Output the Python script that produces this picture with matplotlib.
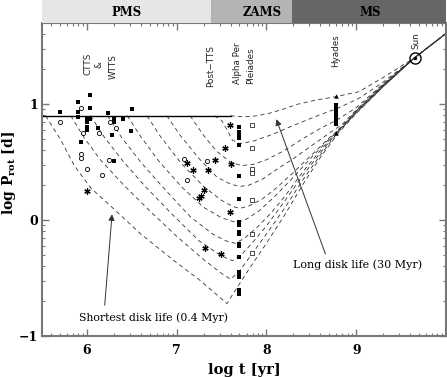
import numpy as np
import matplotlib
matplotlib.use("Agg")
import matplotlib.pyplot as plt

plt.rcParams['mathtext.fontset'] = 'dejavuserif'

# ---------------- data ----------------
# model tracks (log t, log P), lowest (0.4 Myr) to top (30 Myr)
trk_A_x = [5.54, 5.71, 5.86, 6.04, 6.28, 6.60, 6.97, 7.26, 7.56, 7.65, 7.80, 8.00, 8.20, 8.40, 8.60, 8.80, 9.00, 9.30, 9.65, 10.0]
trk_A_y = [0.90, 0.69, 0.47, 0.28, 0.11, -0.12, -0.35, -0.52, -0.72, -0.61, -0.43, -0.20, 0.04, 0.30, 0.54, 0.75, 0.92, 1.15, 1.40, 1.61]
trk_B_x = [5.82, 5.97, 6.15, 6.40, 6.70, 7.00, 7.30, 7.50, 7.60, 7.70, 7.85, 8.00, 8.20, 8.40, 8.60, 8.80, 9.00, 9.30, 9.65, 10.0]
trk_B_y = [0.90, 0.71, 0.52, 0.31, 0.08, -0.14, -0.34, -0.46, -0.51, -0.44, -0.28, -0.12, 0.10, 0.34, 0.56, 0.76, 0.925, 1.15, 1.40, 1.61]
trk_C_x = [6.04, 6.19, 6.40, 6.65, 6.95, 7.25, 7.50, 7.62, 7.72, 7.85, 8.00, 8.20, 8.40, 8.60, 8.80, 9.00, 9.30, 9.65, 10.0]
trk_C_y = [0.90, 0.72, 0.51, 0.29, 0.05, -0.18, -0.31, -0.35, -0.30, -0.19, -0.05, 0.16, 0.38, 0.58, 0.77, 0.93, 1.155, 1.40, 1.61]
trk_D_x = [6.23, 6.38, 6.60, 6.85, 7.15, 7.40, 7.55, 7.65, 7.75, 7.90, 8.05, 8.20, 8.40, 8.60, 8.80, 9.00, 9.30, 9.65, 10.0]
trk_D_y = [0.90, 0.72, 0.50, 0.28, 0.03, -0.12, -0.18, -0.20, -0.16, -0.06, 0.06, 0.20, 0.41, 0.60, 0.78, 0.935, 1.16, 1.40, 1.61]
trk_E_x = [6.45, 6.60, 6.80, 7.05, 7.30, 7.50, 7.62, 7.68, 7.78, 7.92, 8.10, 8.30, 8.50, 8.70, 8.85, 9.00, 9.30, 9.65, 10.0]
trk_E_y = [0.90, 0.72, 0.51, 0.29, 0.11, 0.02, -0.01, -0.02, 0.01, 0.08, 0.21, 0.37, 0.54, 0.70, 0.80, 0.94, 1.16, 1.40, 1.61]
trk_F_x = [6.67, 6.82, 7.05, 7.30, 7.50, 7.62, 7.70, 7.80, 7.95, 8.10, 8.30, 8.50, 8.70, 8.85, 9.00, 9.30, 9.65, 10.0]
trk_F_y = [0.90, 0.72, 0.49, 0.29, 0.17, 0.12, 0.10, 0.12, 0.18, 0.27, 0.41, 0.56, 0.71, 0.81, 0.945, 1.165, 1.40, 1.61]
trk_G_x = [6.89, 7.04, 7.25, 7.45, 7.60, 7.70, 7.80, 7.95, 8.10, 8.30, 8.50, 8.70, 8.85, 9.00, 9.30, 9.65, 10.0]
trk_G_y = [0.90, 0.73, 0.53, 0.37, 0.31, 0.29, 0.30, 0.35, 0.43, 0.53, 0.64, 0.75, 0.83, 0.95, 1.17, 1.40, 1.61]
trk_H_x = [7.15, 7.30, 7.45, 7.60, 7.72, 7.85, 8.00, 8.20, 8.40, 8.60, 8.80, 9.00, 9.30, 9.65, 10.0]
trk_H_y = [0.90, 0.73, 0.59, 0.50, 0.47, 0.48, 0.52, 0.60, 0.70, 0.79, 0.87, 0.97, 1.175, 1.40, 1.61]
trk_I_x = [7.42, 7.50, 7.56, 7.62, 7.70, 7.85, 8.07, 8.25, 8.44, 8.60, 8.78, 9.03, 9.30, 9.65, 10.0]
trk_I_y = [0.90, 0.86, 0.78, 0.69, 0.66, 0.68, 0.74, 0.80, 0.86, 0.91, 0.96, 1.05, 1.19, 1.40, 1.61]
trk_J_x = [7.60, 7.75, 7.90, 8.05, 8.20, 8.35, 8.55, 8.77, 9.03, 9.30, 9.65, 10.0]
trk_J_y = [0.90, 0.89, 0.90, 0.925, 0.96, 1.00, 1.035, 1.064, 1.107, 1.23, 1.40, 1.61]

# disk-locked period line
lock_x = [5.5, 7.6]
lock_y = [0.9, 0.9]

# observations
filled_x = [5.70, 5.90, 6.04, 6.04, 5.90, 5.90, 6.00, 6.04, 6.00, 6.00, 6.00, 6.12, 6.23, 6.30, 6.30, 6.40, 6.50, 5.93, 6.28, 6.49, 6.30]
filled_y = [0.93, 1.015, 1.08, 0.97, 0.93, 0.89, 0.875, 0.875, 0.845, 0.80, 0.775, 0.795, 0.92, 0.875, 0.845, 0.875, 0.955, 0.67, 0.73, 0.77, 0.51]
open_x = [5.70, 5.93, 6.26, 6.32, 5.96, 6.14, 5.93, 5.93, 6.00, 6.17, 6.25, 7.08, 7.34, 7.12]
open_y = [0.85, 0.97, 0.85, 0.79, 0.75, 0.75, 0.57, 0.535, 0.44, 0.385, 0.52, 0.53, 0.51, 0.35]
star_x = [6.00, 7.12, 7.18, 7.43, 7.35, 7.30, 7.27, 7.25, 7.59, 7.54, 7.60, 7.59, 7.49, 7.32]
star_y = [0.255, 0.49, 0.435, 0.52, 0.435, 0.26, 0.21, 0.19, 0.82, 0.62, 0.48, 0.07, -0.29, -0.24]
pleiades_x = [7.69] * 19
pleiades_y = [0.80, 0.76, 0.73, 0.71, 0.65, 0.38, 0.18, -0.02, -0.04, -0.105, -0.12, -0.205, -0.225, -0.32, -0.45, -0.47, -0.49, -0.60, -0.64]
alphaper_x = [7.84] * 7
alphaper_y = [0.82, 0.62, 0.44, 0.41, 0.175, -0.12, -0.28]
hyades_x = [8.77] * 9
hyades_y = [0.99, 0.97, 0.95, 0.93, 0.91, 0.89, 0.87, 0.85, 0.83]
tri_x = [8.77, 8.77]
tri_y = [1.07, 0.75]
sun_x, sun_y = 9.65, 1.40

phase_names = ["PMS", "ZAMS", "MS"]
phase_edges = [5.5, 7.384, 8.289, 10.0]
phase_colors = ["#e6e6e6", "#b4b4b4", "#666666"]
phase_label_x = [6.44, 7.95, 9.16]

group_labels = ["CTTS", "&", "WTTS", "Post\u2212TTS", "Alpha Per", "Pleiades", "Hyades", "Sun"]
group_label_x = [6.01, 6.14, 6.29, 7.38, 7.68, 7.82, 8.77, 9.67]
group_label_y = [1.35, 1.34, 1.32, 1.33, 1.35, 1.33, 1.46, 1.55]

# ---------------- figure ----------------
W, H = 447, 377
fig = plt.figure(figsize=(W / 100, H / 100), dpi=100)
L, R, B, T = 42, 446, 336, 23
ax = fig.add_axes([L / W, 1 - B / H, (R - L) / W, (B - T) / H])
bax = fig.add_axes([L / W, 1 - T / H, (R - L) / W, T / H])

xmin, xmax, ymin, ymax = 5.5, 10.0, -1.0, 1.7
ax.set_xlim(xmin, xmax)
ax.set_ylim(ymin, ymax)

# phase band
bax.set_xlim(xmin, xmax)
bax.set_ylim(0, 1)
bax.axis('off')
for i, name in enumerate(phase_names):
    bax.axvspan(phase_edges[i], phase_edges[i + 1], color=phase_colors[i], lw=0)
    bax.text(phase_label_x[i], 0.45, name, ha='center', va='center',
             family='DejaVu Serif', weight='bold', fontsize=8.5, color='black')

# tracks
tracks = [(trk_A_x, trk_A_y), (trk_B_x, trk_B_y), (trk_C_x, trk_C_y), (trk_D_x, trk_D_y),
          (trk_E_x, trk_E_y), (trk_F_x, trk_F_y), (trk_G_x, trk_G_y), (trk_H_x, trk_H_y),
          (trk_I_x, trk_I_y), (trk_J_x, trk_J_y)]
for tx, ty in tracks:
    ax.plot(tx, ty, color='#333333', lw=0.6, dashes=(5, 4), zorder=2)
ax.plot(lock_x, lock_y, color='black', lw=1.0, zorder=2)

# observations
ax.plot(filled_x, filled_y, 's', color='black', ms=2.3, mew=0, zorder=3)
ax.plot(open_x, open_y, 'o', mfc='white', mec='black', ms=3.0, mew=0.6, zorder=3)
ax.plot(star_x, star_y, marker=(6, 2, 0), ls='none', color='black', ms=4.5, mew=0.9, zorder=3)
ax.plot(pleiades_x, pleiades_y, 's', color='black', ms=2.3, mew=0, zorder=3)
ax.plot(alphaper_x, alphaper_y, 's', mfc='white', mec='black', ms=2.6, mew=0.5, zorder=3)
ax.plot(hyades_x, hyades_y, 's', color='black', ms=2.6, mew=0, zorder=3)
ax.plot(tri_x, tri_y, '^', color='black', ms=3.2, mew=0, zorder=3)
ax.plot([sun_x], [sun_y], 'o', mfc='none', mec='black', ms=8, mew=1.0, zorder=4)
ax.plot([sun_x], [sun_y], 'o', color='black', ms=1.5, zorder=4)

# vertical group labels
for lab, gx, gy in zip(group_labels, group_label_x, group_label_y):
    ax.text(gx, gy, lab, rotation=90, ha='center', va='center',
            family='DejaVu Sans', fontsize=6.3, color='#222222')

# annotations
ax.annotate("Long disk life (30 Myr)", xy=(8.11, 0.87), xytext=(9.01, -0.385),
            ha='center', va='center', family='DejaVu Serif', fontsize=8,
            arrowprops=dict(arrowstyle='-|>', color='#333333', lw=0.7,
                            mutation_scale=9, shrinkA=2, shrinkB=0, relpos=(0.27, 1.0)))
ax.annotate("Shortest disk life (0.4 Myr)", xy=(6.28, 0.05), xytext=(6.74, -0.84),
            ha='center', va='center', family='DejaVu Serif', fontsize=7.8,
            arrowprops=dict(arrowstyle='-|>', color='#333333', lw=0.7,
                            mutation_scale=9, shrinkA=3, shrinkB=0, relpos=(0.17, 1.0)))

# ticks
ax.set_xticks([6, 7, 8, 9])
ax.set_yticks([-1, 0, 1])
ax.set_xticklabels(['6', '7', '8', '9'])
ax.set_yticklabels(['\u22121', '0', '1'])
xminor = [np.log10(k * 10.0 ** n) for n in range(5, 10) for k in range(2, 10)]
xminor = [v for v in xminor if xmin < v < xmax]
yminor = [np.log10(k * 10.0 ** n) for n in range(-1, 2) for k in range(2, 10)]
yminor = [v for v in yminor if ymin < v < ymax]
ax.set_xticks(xminor, minor=True)
ax.set_yticks(yminor, minor=True)
ax.tick_params(which='both', direction='in', top=True, right=True, color='#777777')
ax.tick_params(which='major', length=5, width=1.0, labelsize=9)
ax.tick_params(axis='x', which='major', pad=6)
ax.tick_params(axis='y', which='major', pad=3)
ax.tick_params(which='minor', length=2.5, width=0.8)
for lab in ax.get_xticklabels() + ax.get_yticklabels():
    lab.set_family('DejaVu Serif')
    lab.set_weight('bold')
for sp in ax.spines.values():
    sp.set_color('#777777')
    sp.set_linewidth(1.5)

ax.set_xlabel('log t [yr]', family='DejaVu Serif', weight='bold', fontsize=10.5, labelpad=4)
ax.set_ylabel(r'log P$_{\mathbf{rot}}$ [d]', family='DejaVu Serif', weight='bold', fontsize=10)
ax.yaxis.set_label_coords(-0.06, 0.52)

fig.savefig('out.png', dpi=100)
